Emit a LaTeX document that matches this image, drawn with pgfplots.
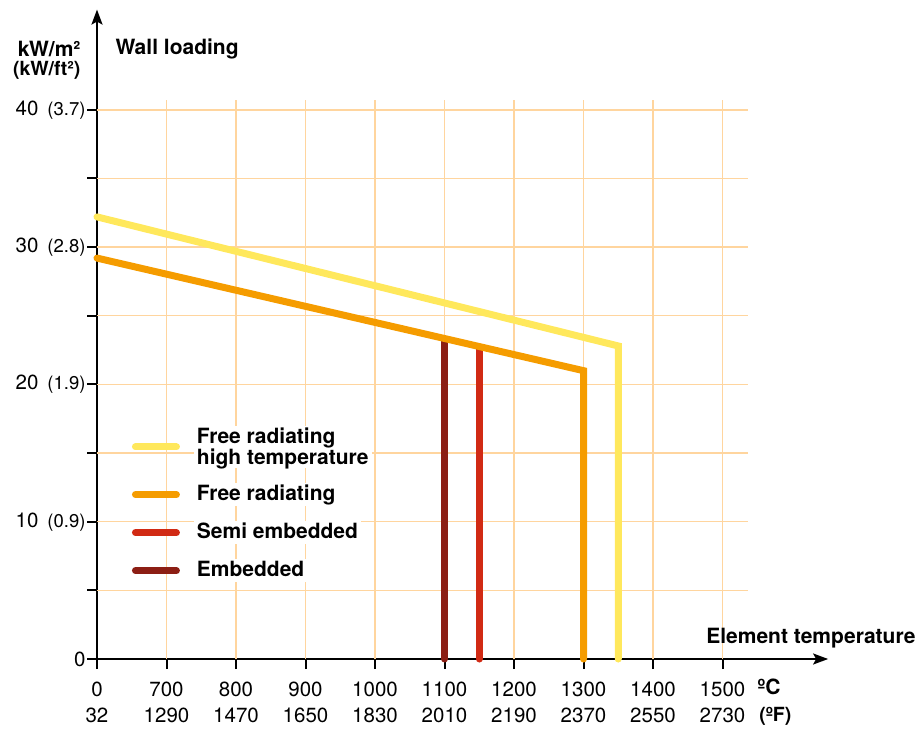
\documentclass[border=0pt]{standalone}
\usepackage{fontspec}
\setmainfont{TeX Gyre Heros}
\usepackage{pgfplots}
\pgfplotsset{compat=1.18}
\usetikzlibrary{arrows.meta}
\definecolor{cyel}{HTML}{FFE85C}
\definecolor{corg}{HTML}{F59C00}
\definecolor{cred}{HTML}{D12A14}
\definecolor{cdrk}{HTML}{8C1E14}
\definecolor{cgrid}{HTML}{FFD59E}
\begin{document}
\begin{tikzpicture}
\path[use as bounding box] (0,0) rectangle (921pt,729pt);
\begin{axis}[
  at={(97pt,70pt)}, anchor=south west,
  x=69.5pt, y=13.73pt,
  xmin=0, xmax=10.52, ymin=0, ymax=47.3,
  enlargelimits=false, clip=false,
  axis lines=left,
  axis line style={black, line width=2pt, -{Stealth[length=15pt,width=11pt,inset=3pt]}},
  tick align=outside,
  major tick length=10pt,
  every tick/.style={black, line width=2pt},
  ytick={0,5,...,40},
  yticklabels={0,,{10\hspace{9pt}{\fontsize{18.5}{18.5}\selectfont(0.9)}},,{20\hspace{9pt}{\fontsize{18.5}{18.5}\selectfont(1.9)}},,{30\hspace{9pt}{\fontsize{18.5}{18.5}\selectfont(2.8)}},,{40\hspace{9pt}{\fontsize{18.5}{18.5}\selectfont(3.7)}}},
  yticklabel style={font=\fontsize{20.5}{20.5}\selectfont, xshift=2pt},
  xtick={0,...,9},
  xticklabels={0,700,800,900,1000,1100,1200,1300,1400,1500},
  xticklabel style={font=\fontsize{20.5}{20.5}\selectfont, anchor=base, yshift=-27pt},
  extra x ticks={0,...,9},
  extra x tick labels={32,1290,1470,1650,1830,2010,2190,2370,2550,2730},
  extra x tick style={major tick length=0pt, tick label style={font=\fontsize{18.5}{18.5}\selectfont, anchor=base, yshift=-36pt}},
  legend cell align=left,
  reverse legend,
  legend style={at={(axis cs:0.5,17.0)}, anchor=north west, draw=none, fill=none, inner sep=0pt,
    row sep=15pt, font=\bfseries\fontsize{21}{18.5}\selectfont,
    /tikz/every odd column/.append style={column sep=14pt}},
  legend image code/.code={\draw[#1, line cap=round] (0pt,0pt) -- (41pt,0pt);},
]
\pgfplotsinvokeforeach{1,...,9}{\draw[cgrid, line width=1.5pt] (axis cs:#1,0) -- (axis cs:#1,40.7);}
\pgfplotsinvokeforeach{5,10,...,40}{\draw[cgrid, line width=1.5pt] (axis cs:0,#1) -- (axis cs:9.37,#1);}

\addplot[cdrk, line width=7pt, line cap=round] coordinates {(5,0) (5,23.3)};
\addlegendentry[fill=white, inner xsep=3pt, inner ysep=2pt, text height=15pt, text depth=4pt]{Embedded}
\addplot[cred, line width=7pt, line cap=round] coordinates {(5.5,0) (5.5,22.7)};
\addlegendentry[fill=white, inner xsep=3pt, inner ysep=2pt, text height=15pt, text depth=4pt]{Semi embedded}
\addplot[corg, line width=7pt, line cap=round, line join=miter] coordinates {(0,29.2) (7,21.0) (7,0)};
\addlegendentry[fill=white, inner xsep=3pt, inner ysep=2pt, text height=15pt, text depth=4pt]{Free radiating}
\addplot[cyel, line width=7pt, line cap=round, line join=miter] coordinates {(0,32.2) (7.5,22.8) (7.5,0)};
\addlegendentry[fill=white, inner xsep=3pt, inner ysep=2pt, align=left]{Free radiating\\high temperature}

\node[font=\bfseries\fontsize{21}{21}\selectfont, anchor=base] at (axis cs:9.67,0) [yshift=-35pt] {ºC};
\node[font=\bfseries\fontsize{19.5}{19.5}\selectfont, anchor=base] at (axis cs:9.76,0) [yshift=-62pt] {(ºF)};
\end{axis}
\node[font=\bfseries\fontsize{21}{21}\selectfont, anchor=east] at (84pt,680pt) {kW/m²};
\node[font=\bfseries\fontsize{19.5}{19.5}\selectfont, anchor=east] at (84pt,659pt) {(kW/ft²)};
\node[font=\bfseries\fontsize{21}{21}\selectfont, anchor=west] at (112pt,680pt) {Wall loading};
\node[font=\bfseries\fontsize{21}{21}\selectfont, anchor=east] at (919pt,91pt) {Element temperature};
\end{tikzpicture}
\end{document}
